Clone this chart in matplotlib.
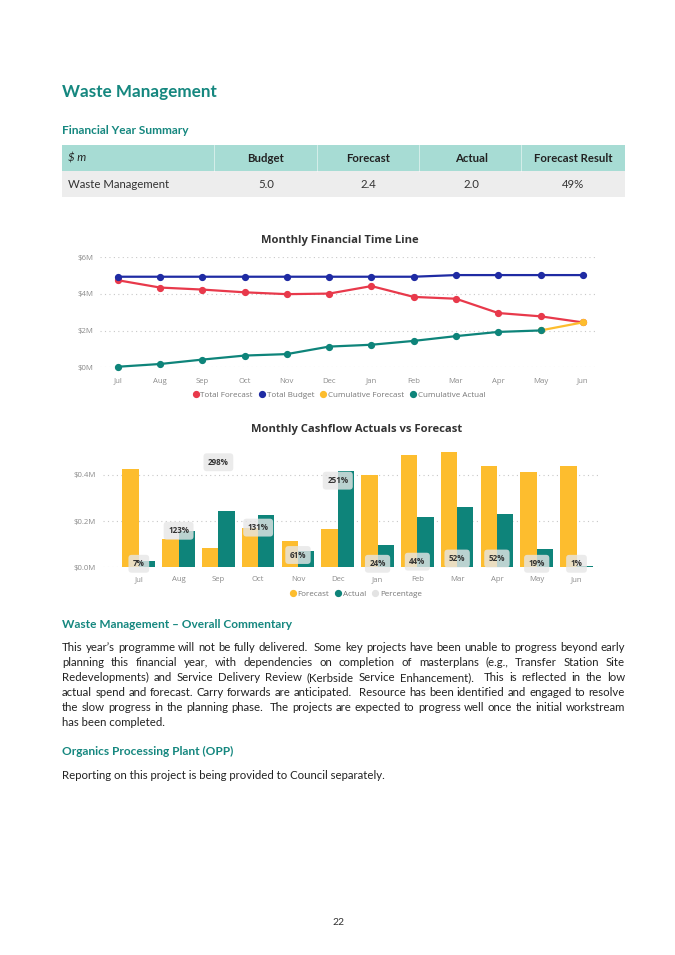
"""Waste Management report page: summary table, two Power BI style charts and commentary."""

import matplotlib
matplotlib.use("Agg")
import matplotlib.pyplot as plt
import numpy as np
from matplotlib.lines import Line2D
from matplotlib.patches import Rectangle

W, H = 675, 955  # page size in pixels (dpi 100)

HEAD_TEAL = "#15877f"
RED = "#e8394b"
BLUE = "#1f2ba3"
YELLOW = "#fdbd2e"
TEAL = "#0e847a"
TICK_GREY = "#8c8c8c"
PAGE_FONT = ["Lato", "DejaVu Sans"]
CHART_FONT = ["Open Sans", "DejaVu Sans"]

# summary table
table_columns = ["$ m", "Budget", "Forecast", "Actual", "Forecast Result"]
table_row = ["Waste Management", "5.0", "2.4", "2.0", "49%"]

# monthly financial time line ($M)
months = ["Jul", "Aug", "Sep", "Oct", "Nov", "Dec", "Jan", "Feb", "Mar", "Apr", "May", "Jun"]
total_forecast = [4.75, 4.35, 4.24, 4.09, 3.99, 4.02, 4.43, 3.84, 3.74, 2.96, 2.78, 2.45]
total_budget = [4.94, 4.94, 4.94, 4.94, 4.94, 4.94, 4.94, 4.94, 5.03, 5.03, 5.03, 5.03]
cumulative_forecast = [None, None, None, None, None, None, None, None, None, None, 2.01, 2.45]
cumulative_actual = [0.03, 0.18, 0.42, 0.64, 0.72, 1.13, 1.23, 1.44, 1.70, 1.93, 2.01, None]

# monthly cashflow ($M) and actual / forecast percentage
monthly_forecast = [0.426, 0.124, 0.082, 0.168, 0.113, 0.166, 0.399, 0.485, 0.498, 0.440, 0.412, 0.436]
monthly_actual = [0.029, 0.155, 0.244, 0.224, 0.069, 0.416, 0.098, 0.217, 0.261, 0.230, 0.081, 0.006]
percentage = [7, 123, 298, 131, 61, 251, 24, 44, 52, 52, 19, 1]

commentary = [
    "This year\u2019s programme will not be fully delivered.  Some key projects have been unable to progress beyond early",
    "planning this financial year, with dependencies on completion of masterplans (e.g., Transfer Station Site",
    "Redevelopments) and Service Delivery Review (Kerbside Service Enhancement).  This is reflected in the low",
    "actual spend and forecast. Carry forwards are anticipated.  Resource has been identified and engaged to resolve",
    "the slow progress in the planning phase.  The projects are expected to progress well once the initial workstream",
    "has been completed.",
]
opp_text = "Reporting on this project is being provided to Council separately."


def fx(x):
    return x / W


def fy(y):
    return 1 - y / H


def rect(left, top, right, bottom):
    return [fx(left), fy(bottom), (right - left) / W, (bottom - top) / H]


def justify(fig, renderer, line, x0, x1, y, **kw):
    # place words one by one so the line fills x0..x1 like justified text
    tokens = line.split(" ")
    arts = [fig.text(0, 0, tok, va="center", **kw) for tok in tokens]
    widths = [a.get_window_extent(renderer).width if tok else 0 for a, tok in zip(arts, tokens)]
    gap = (x1 - x0 - sum(widths)) / (len(tokens) - 1)
    x = x0
    for a, w in zip(arts, widths):
        a.set_position((fx(x), fy(y)))
        x += w + gap


def style_axes(ax, xpad):
    for s in ax.spines.values():
        s.set_visible(False)
    ax.tick_params(length=0, labelsize=5.6, labelcolor=TICK_GREY)
    ax.tick_params(axis="y", pad=5)
    ax.tick_params(axis="x", pad=xpad)
    for lab in ax.get_xticklabels() + ax.get_yticklabels():
        lab.set_family(CHART_FONT)
    for lab in ax.get_xticklabels():
        lab.set_verticalalignment("baseline")
    ax.grid(axis="y", linestyle=(0, (1, 3)), color="#c8c8c8", linewidth=0.8)
    ax.set_axisbelow(True)


def legend(fig, labels, colors, x, y):
    handles = [Line2D([], [], ls="", marker="o", markersize=4.2, color=c) for c in colors]
    fig.legend(handles, labels, loc="center", bbox_to_anchor=(fx(x), fy(y)), ncol=len(labels),
               frameon=False, handletextpad=0.0, columnspacing=0.5, handlelength=1.2,
               prop={"family": CHART_FONT, "size": 5.8}, labelcolor="#777777")


def main():
    fig = plt.figure(figsize=(W / 100, H / 100), dpi=100)
    renderer = fig.canvas.get_renderer()

    # headings
    fig.text(fx(62), fy(92.5), "Waste Management", family=PAGE_FONT, weight="bold",
             size=12.3, color=HEAD_TEAL, va="center")
    fig.text(fx(62), fy(130), "Financial Year Summary", family=PAGE_FONT, weight="bold",
             size=8.6, color=HEAD_TEAL, va="center")

    # summary table
    fig.patches.append(Rectangle((fx(62), fy(171)), fx(625) - fx(62), (171 - 145) / H,
                                 transform=fig.transFigure, fc="#a7dcd4", ec="none"))
    fig.patches.append(Rectangle((fx(62), fy(197)), fx(625) - fx(62), (197 - 171) / H,
                                 transform=fig.transFigure, fc="#ededed", ec="none"))
    for sep in [214, 317, 419, 521]:
        fig.add_artist(Line2D([fx(sep), fx(sep)], [fy(145), fy(171)], color="white",
                              lw=0.6, alpha=0.6))
    col_x = [68, 266, 368, 471, 573]
    for i, (head, val) in enumerate(zip(table_columns, table_row)):
        ha = "left" if i == 0 else "center"
        fig.text(fx(col_x[i]), fy(158), head, family=PAGE_FONT, size=8.2,
                 weight="normal" if i == 0 else "bold", style="italic" if i == 0 else "normal",
                 color="#222222", ha=ha, va="center")
        fig.text(fx(col_x[i]), fy(184), val, family=PAGE_FONT, size=8.2, color="#333333",
                 ha=ha, va="center")

    x = np.arange(len(months))

    # line chart
    fig.text(fx(340), fy(240.7), "Monthly Financial Time Line", family=CHART_FONT,
             weight="bold", size=8.1, color="#333333", ha="center", va="center")
    ax = fig.add_axes(rect(100, 257.3, 598, 367.3))
    series = [
        (total_forecast, RED, 2),
        (total_budget, BLUE, 2),
        (cumulative_forecast, YELLOW, 3),
        (cumulative_actual, TEAL, 4),
    ]
    for vals, color, z in series:
        ax.plot(x, np.array(vals, dtype=float), color=color, lw=1.6, marker="o",
                markersize=4.2, zorder=z, clip_on=False)
    ax.set_xlim(-0.42, 11.36)
    ax.set_ylim(0, 6)
    ax.set_yticks([0, 2, 4, 6])
    ax.set_yticklabels([f"${v}M" for v in [0, 2, 4, 6]])
    ax.set_xticks(x)
    ax.set_xticklabels(months)
    style_axes(ax, xpad=11)
    legend(fig, ["Total Forecast", "Total Budget", "Cumulative Forecast", "Cumulative Actual"],
           [RED, BLUE, YELLOW, TEAL], 338, 394.7)

    # bar chart
    fig.text(fx(356.7), fy(429.7), "Monthly Cashflow Actuals vs Forecast", family=CHART_FONT,
             weight="bold", size=8.1, color="#333333", ha="center", va="center")
    bx = fig.add_axes(rect(103, 447, 598, 567.3))
    bw = 0.41
    bx.bar(x - bw / 2, monthly_forecast, bw, color=YELLOW, zorder=2)
    bx.bar(x + bw / 2, monthly_actual, bw, color=TEAL, zorder=2)
    bx.set_xlim(-0.9, 11.54)
    bx.set_ylim(0, 0.52)
    bx.set_yticks([0, 0.2, 0.4])
    bx.set_yticklabels(["$0.0M", "$0.2M", "$0.4M"])
    bx.set_xticks(x)
    bx.set_xticklabels(months)
    style_axes(bx, xpad=10)

    px_ax = bx.twinx()
    px_ax.set_ylim(29.6, 337)
    px_ax.axis("off")
    for i, p in enumerate(percentage):
        px_ax.text(i, max(p, 38.6), f"{p}%", ha="center", va="center", family=CHART_FONT,
                   weight="bold", size=5.8, color="#333333", zorder=5,
                   bbox=dict(boxstyle="round,pad=0.55,rounding_size=0.4", fc="#e6e6e6",
                             ec="none", alpha=0.8))
    legend(fig, ["Forecast", "Actual", "Percentage"], [YELLOW, TEAL, "#e3e3e3"], 355, 594)

    # commentary
    fig.text(fx(62), fy(624.3), "Waste Management \u2013 Overall Commentary", family=PAGE_FONT,
             weight="bold", size=8.6, color=HEAD_TEAL, va="center")
    body = dict(family=PAGE_FONT, size=8.2, color="#222222")
    for i, line in enumerate(commentary):
        y = 647.3 + 15 * i
        if i < len(commentary) - 1:
            justify(fig, renderer, line, 62, 625, y, **body)
        else:
            fig.text(fx(62), fy(y), line, va="center", **body)

    fig.text(fx(62), fy(751.7), "Organics Processing Plant (OPP)", family=PAGE_FONT,
             weight="bold", size=8.6, color=HEAD_TEAL, va="center")
    fig.text(fx(62), fy(775), opp_text, va="center", **body)

    fig.text(fx(338), fy(922), "22", family=PAGE_FONT, size=7.5, color="#333333",
             ha="center", va="center")

    fig.savefig("out.png", dpi=100)


if __name__ == "__main__":
    main()
